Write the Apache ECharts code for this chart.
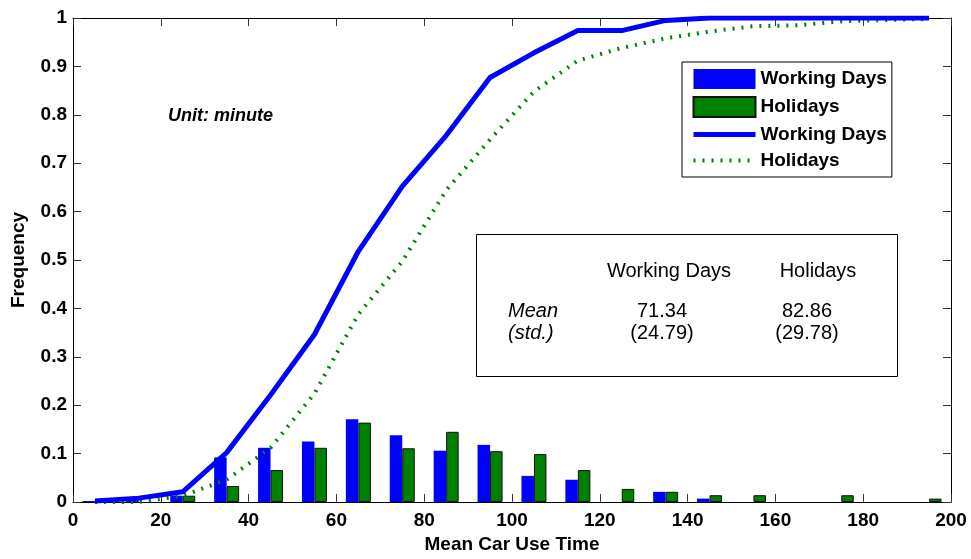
<!DOCTYPE html>
<html>
<head>
<meta charset="utf-8">
<script src="https://cdn.jsdelivr.net/npm/echarts@6/dist/echarts.min.js"></script>
<style>
  html, body { margin: 0; padding: 0; background: #fff; }
  #chart { width: 971px; height: 559px; }
</style>
</head>
<body>
<div id="chart"></div>
<script>
// ---- data ----
const binCenters = [5, 15, 25, 35, 45, 55, 65, 75, 85, 95, 105, 115, 125, 135, 145, 155, 165, 175, 185, 195];
const workFreq   = [0.002, 0.006, 0.013, 0.092, 0.112, 0.125, 0.171, 0.138, 0.106, 0.118, 0.054, 0.046, null, 0.021, 0.007, null, null, null, null, null];
const holFreq    = [null, null, 0.013, 0.033, 0.066, 0.112, 0.164, 0.111, 0.145, 0.105, 0.099, 0.066, 0.027, 0.021, 0.014, 0.014, null, 0.014, null, 0.007];
const workCdf    = [0.002, 0.008, 0.021, 0.102, 0.221, 0.346, 0.518, 0.652, 0.757, 0.877, 0.928, 0.974, 0.974, 0.995, 1.0, 1.0, 1.0, 1.0, 1.0, 1.0];
const holCdf     = [0.0, 0.0, 0.013, 0.046, 0.112, 0.224, 0.388, 0.497, 0.644, 0.749, 0.848, 0.912, 0.938, 0.958, 0.972, 0.983, 0.985, 0.993, 0.996, 0.998];
const legendLabels = { wdBar: 'Working Days', holBar: 'Holidays', wdLine: 'Working Days', holLine: 'Holidays' };
const tableHeader = ['Working Days', 'Holidays'];
const tableMeans  = ['71.34', '82.86'];
const tableStds   = ['(24.79)', '(29.78)'];
const unitText = 'Unit: minute';

const FONT = "'Liberation Sans', Arial, Helvetica, sans-serif";
const pairs = (xs, ys) => xs.map((x, i) => [x, ys[i]]);

const chart = echarts.init(document.getElementById('chart'), null, { renderer: 'canvas' });

const axisTxt = { fontFamily: FONT, fontSize: 19, fontWeight: 'bold', color: '#000' };
const tickStyle = { show: true, inside: true, length: 8, lineStyle: { color: '#333', width: 1 } };
const hiddenSymbol = { color: 'rgba(0,0,0,0)', borderColor: 'rgba(0,0,0,0)', borderWidth: 0, opacity: 0 };
const tableTxt = { fontFamily: FONT, fontSize: 20, fill: '#000', verticalAlign: 'middle' };

const option = {
  backgroundColor: '#fff',
  animation: false,
  grid: { left: 73, right: 20, top: 18, bottom: 57, containLabel: false },
  xAxis: [
    {
      type: 'value', min: 0, max: 200, interval: 20, position: 'bottom',
      name: 'Mean Car Use Time', nameLocation: 'middle', nameGap: 33,
      nameTextStyle: axisTxt,
      axisLine: { show: true, onZero: false, lineStyle: { color: '#000', width: 1 } },
      axisTick: tickStyle,
      axisLabel: Object.assign({ margin: 9 }, axisTxt),
      splitLine: { show: false }
    },
    {
      type: 'value', min: 0, max: 200, interval: 20, position: 'top',
      axisLine: { show: true, onZero: false, lineStyle: { color: '#000', width: 1 } },
      axisTick: tickStyle,
      axisLabel: { show: false },
      splitLine: { show: false }
    }
  ],
  yAxis: [
    {
      type: 'value', min: 0, max: 1, interval: 0.1, position: 'left',
      name: 'Frequency', nameLocation: 'middle', nameGap: 45,
      nameTextStyle: axisTxt,
      axisLine: { show: true, onZero: false, lineStyle: { color: '#000', width: 1 } },
      axisTick: tickStyle,
      axisLabel: Object.assign({ margin: 6 }, axisTxt),
      splitLine: { show: false }
    },
    {
      type: 'value', min: 0, max: 1, interval: 0.1, position: 'right',
      axisLine: { show: true, onZero: false, lineStyle: { color: '#000', width: 1 } },
      axisTick: tickStyle,
      axisLabel: { show: false },
      splitLine: { show: false }
    }
  ],
  legend: {
    orient: 'vertical', left: 682, top: 62,
    padding: [7, 5, 7, 9], itemGap: 7, itemWidth: 62, itemHeight: 20,
    borderColor: '#000', borderWidth: 1, backgroundColor: '#fff',
    selectedMode: false,
    textStyle: { fontFamily: FONT, fontSize: 19, fontWeight: 'bold', color: '#000' },
    formatter: name => legendLabels[name],
    data: [
      { name: 'wdBar', icon: 'rect' },
      { name: 'holBar', icon: 'rect' },
      { name: 'wdLine', itemStyle: hiddenSymbol, lineStyle: { width: 5, color: '#0000ff' } },
      { name: 'holLine', itemStyle: hiddenSymbol, lineStyle: { width: 4, color: '#008000', type: [2, 7], cap: 'butt' } }
    ]
  },
  series: [
    {
      name: 'wdBar', type: 'bar', xAxisIndex: 0, yAxisIndex: 0,
      data: pairs(binCenters, workFreq), barWidth: 12.5, barGap: '0%',
      itemStyle: { color: '#0000ff', borderWidth: 0 }, z: 2
    },
    {
      name: 'holBar', type: 'bar', xAxisIndex: 0, yAxisIndex: 0,
      data: pairs(binCenters, holFreq), barWidth: 12.5, barGap: '0%',
      itemStyle: { color: '#008000', borderColor: '#111', borderWidth: 1 }, z: 2
    },
    {
      name: 'wdLine', type: 'line', xAxisIndex: 0, yAxisIndex: 0,
      data: pairs(binCenters, workCdf), symbol: 'none', showSymbol: false,
      lineStyle: { color: '#0000ff', width: 5, join: 'round' },
      itemStyle: { color: '#0000ff' }, z: 4
    },
    {
      name: 'holLine', type: 'line', xAxisIndex: 0, yAxisIndex: 0,
      data: pairs(binCenters, holCdf), symbol: 'none', showSymbol: false,
      lineStyle: { color: '#008000', width: 4, type: [2, 7], cap: 'butt' },
      itemStyle: { color: '#008000' }, z: 3
    }
  ],
  graphic: [
    {
      type: 'text', left: 168, top: 107, z: 10,
      style: { text: unitText, fontFamily: FONT, fontSize: 18, fontWeight: 'bold', fontStyle: 'italic', fill: '#000' }
    },
    {
      type: 'rect', shape: { x: 476.5, y: 234.5, width: 421, height: 142 }, z: 5,
      style: { fill: '#fff', stroke: '#000', lineWidth: 1 }
    },
    { type: 'text', z: 10, style: Object.assign({ x: 669, y: 271, text: tableHeader[0], align: 'center' }, tableTxt) },
    { type: 'text', z: 10, style: Object.assign({ x: 818, y: 271, text: tableHeader[1], align: 'center' }, tableTxt) },
    { type: 'text', z: 10, style: Object.assign({ x: 508, y: 311, text: 'Mean', align: 'left', fontStyle: 'italic' }, tableTxt) },
    { type: 'text', z: 10, style: Object.assign({ x: 508, y: 333, text: '(std.)', align: 'left', fontStyle: 'italic' }, tableTxt) },
    { type: 'text', z: 10, style: Object.assign({ x: 662, y: 311, text: tableMeans[0], align: 'center' }, tableTxt) },
    { type: 'text', z: 10, style: Object.assign({ x: 662, y: 333, text: tableStds[0], align: 'center' }, tableTxt) },
    { type: 'text', z: 10, style: Object.assign({ x: 807, y: 311, text: tableMeans[1], align: 'center' }, tableTxt) },
    { type: 'text', z: 10, style: Object.assign({ x: 807, y: 333, text: tableStds[1], align: 'center' }, tableTxt) }
  ]
};

chart.setOption(option);
</script>
</body>
</html>
